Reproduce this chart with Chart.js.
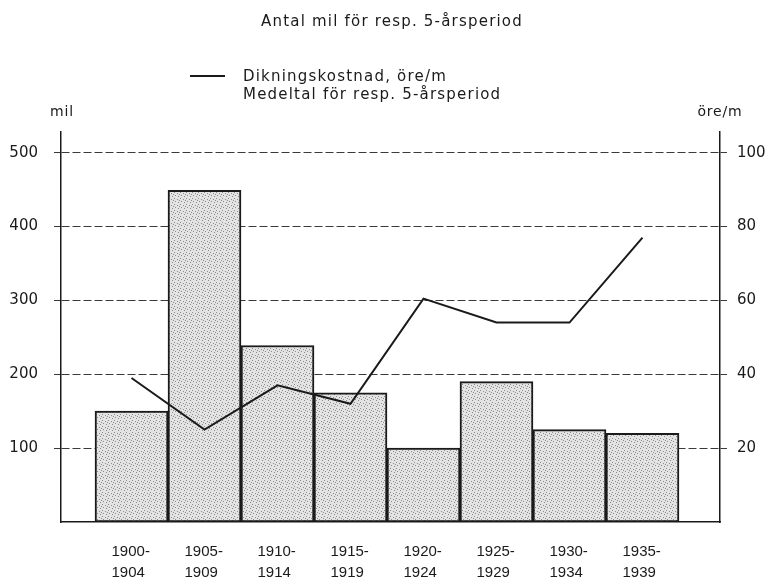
<!DOCTYPE html>
<html>
<head>
<meta charset="utf-8">
<script src="https://cdn.jsdelivr.net/npm/chart.js@4.4.1/dist/chart.umd.min.js"></script>
<style>
  html, body { margin: 0; background: #fff; }
  #wrap { width: 768px; height: 579px; }
</style>
</head>
<body>
<div id="wrap"><canvas id="chart"></canvas></div>
<script>
/* data */
const periods = [
  ['1900-', '1904'], ['1905-', '1909'], ['1910-', '1914'], ['1915-', '1919'],
  ['1920-', '1924'], ['1925-', '1929'], ['1930-', '1934'], ['1935-', '1939']
];
const milPerPeriod = [150, 449, 239, 175, 100, 190, 125, 120];   // antal mil
const costOrePerM  = [39, 25, 37, 32, 60.5, 54, 54, 77];          // öre/m
const milTicks = [100, 200, 300, 400, 500];
const oreTicks = [20, 40, 60, 80, 100];

const TITLE  = 'Antal mil för resp. 5-årsperiod';
const LEGEND = ['Dikningskostnad, öre/m', 'Medeltal för resp. 5-årsperiod'];

const INK  = '#1a1a1a';
const GRID = '#3a3a3a';
const DASH = [8, 3];

/* ── stippled grey fill like the printed bars ── */
function stipple(ctx) {
  const c = document.createElement('canvas');
  c.width = 6; c.height = 6;
  const g = c.getContext('2d');
  g.fillStyle = '#e3e3e3';
  g.fillRect(0, 0, 6, 6);
  g.fillStyle = '#8c8c8c';
  [[0, 0], [3, 1], [1, 3], [4, 4], [5, 2]].forEach(([x, y]) => g.fillRect(x, y, 1, 1));
  return ctx.createPattern(c, 'repeat');
}

/* ── title, legend and unit labels ── */
const paperText = {
  id: 'paperText',
  afterDraw(chart) {
    const ctx = chart.ctx;
    const a = chart.chartArea;
    ctx.save();
    ctx.fillStyle = INK;
    ctx.textBaseline = 'middle';

    ctx.font = '15px "DejaVu Sans"';
    ctx.letterSpacing = '1.2px';
    ctx.textAlign = 'center';
    ctx.fillText(TITLE, 392, 22);

    ctx.strokeStyle = INK;
    ctx.lineWidth = 2;
    ctx.beginPath();
    ctx.moveTo(190, 76);
    ctx.lineTo(225, 76);
    ctx.stroke();

    ctx.textAlign = 'left';
    ctx.fillText(LEGEND[0], 243, 77);
    ctx.fillText(LEGEND[1], 243, 95);

    ctx.font = '14px "DejaVu Sans"';
    ctx.letterSpacing = '0.8px';
    ctx.textAlign = 'center';
    ctx.fillText('mil', a.left + 1, 112);
    ctx.fillText('öre/m', a.right, 112);
    ctx.restore();
  }
};

const ctx = document.getElementById('chart').getContext('2d');
const pts = arr => arr.map((v, i) => ({ x: i, y: v }));

new Chart(ctx, {
  data: {
    datasets: [
      {
        type: 'line',
        data: pts(costOrePerM),
        yAxisID: 'y1',
        borderColor: INK,
        borderWidth: 2,
        pointRadius: 0,
        tension: 0,
        order: 0
      },
      {
        type: 'bar',
        data: pts(milPerPeriod),
        yAxisID: 'y',
        backgroundColor: stipple(ctx),
        borderColor: INK,
        borderWidth: 2,
        borderSkipped: false,
        barPercentage: 1,
        categoryPercentage: 1,
        order: 1
      }
    ]
  },
  options: {
    responsive: true, maintainAspectRatio: false,
    animation: false,
    layout: { padding: { top: 132, left: 0, right: 0, bottom: 0 } },
    plugins: { legend: { display: false }, tooltip: { enabled: false } },
    scales: {
      x: {
        type: 'linear',
        min: -0.966, max: 8.062,
        offset: false,
        afterBuildTicks: s => { s.ticks = periods.map((p, i) => ({ value: i })); },
        afterFit: s => { s.height = 57; },
        grid: { display: false },
        border: { color: INK, width: 1.5 },
        ticks: {
          autoSkip: false, maxRotation: 0,
          align: 'start', labelOffset: -20,
          padding: 11,
          color: INK,
          font: { family: '"Liberation Sans"', size: 15, lineHeight: '21px' },
          callback: v => periods[v]
        }
      },
      y: {
        position: 'left',
        min: 0, max: 528,
        z: 1,
        afterBuildTicks: s => { s.ticks = milTicks.map(v => ({ value: v })); },
        afterFit: s => { s.width = 61; },
        grid: { color: GRID, lineWidth: 1, tickLength: 7, tickColor: GRID, tickBorderDash: DASH },
        border: { color: INK, width: 1.5, dash: DASH },
        ticks: {
          padding: 16, color: INK,
          font: { family: '"DejaVu Sans"', size: 15 }
        }
      },
      y1: {
        position: 'right',
        min: 0, max: 105.6,
        afterBuildTicks: s => { s.ticks = oreTicks.map(v => ({ value: v })); },
        afterFit: s => { s.width = 48; },
        grid: { drawOnChartArea: false, tickLength: 7, color: GRID, lineWidth: 1, tickBorderDash: DASH },
        border: { color: INK, width: 1.5 },
        ticks: {
          padding: 10, color: INK,
          font: { family: '"DejaVu Sans"', size: 15 }
        }
      }
    }
  },
  plugins: [paperText]
});
</script>
</body>
</html>
